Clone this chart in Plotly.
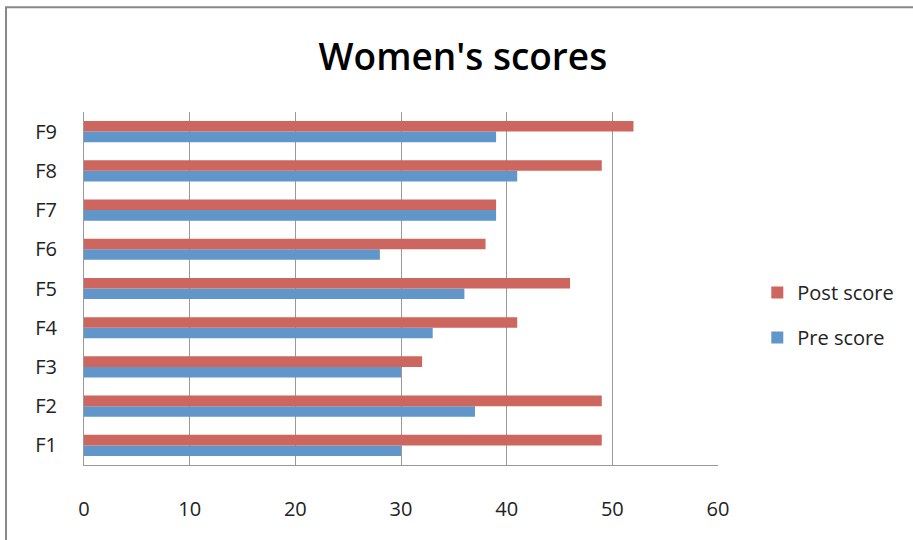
import plotly.graph_objects as go

categories = ["F1", "F2", "F3", "F4", "F5", "F6", "F7", "F8", "F9"]
pre_score = [30, 37, 30, 33, 36, 28, 39, 41, 39]
post_score = [49, 49, 32, 41, 46, 38, 39, 49, 52]
x_ticks = [0, 10, 20, 30, 40, 50, 60]

FONT = "Open Sans"

fig = go.Figure()
fig.add_trace(go.Bar(y=categories, x=pre_score, orientation="h", name="Pre score",
                     marker=dict(color="#6096C9", line=dict(width=0)), legendgroup="pre",
                     legendrank=2))
fig.add_trace(go.Bar(y=categories, x=post_score, orientation="h", name="Post score",
                     marker=dict(color="#CD665E", line=dict(width=0)), legendgroup="post",
                     legendrank=1))

fig.update_layout(
    width=913, height=540,
    paper_bgcolor="white", plot_bgcolor="white",
    margin=dict(l=84, r=195, t=112, b=75),
    barmode="group", bargap=0.46, bargroupgap=0,
    title=dict(text="Women's scores", x=0.507, xanchor="center", y=0.895, yanchor="middle",
               font=dict(family=FONT, size=37, color="black", weight=600)),
    showlegend=True,
    legend=dict(x=1.062, y=0.425, xanchor="left", yanchor="middle", traceorder="grouped",
                tracegroupgap=16, font=dict(family=FONT, size=20, color="#222"),
                itemwidth=30, bgcolor="rgba(0,0,0,0)"),
    xaxis=dict(range=[0, 60], tickvals=x_ticks, showgrid=True, gridcolor="#999", gridwidth=1,
               showline=True, linecolor="#999", linewidth=1, mirror=False, zeroline=False,
               ticks="", ticklabelstandoff=26,
               tickfont=dict(family=FONT, size=20, color="#222"), fixedrange=True),
    yaxis=dict(showgrid=False, showline=True, linecolor="#999", linewidth=1, zeroline=False,
               ticks="", ticklabelstandoff=22,
               tickfont=dict(family=FONT, size=20, color="#222"), fixedrange=True),
    shapes=[dict(type="rect", xref="paper", yref="paper", x0=-0.123, x1=1.5, y0=-0.5, y1=1.297,
                 line=dict(color="#888", width=2), layer="below")],
)

fig.write_html("out.html")
